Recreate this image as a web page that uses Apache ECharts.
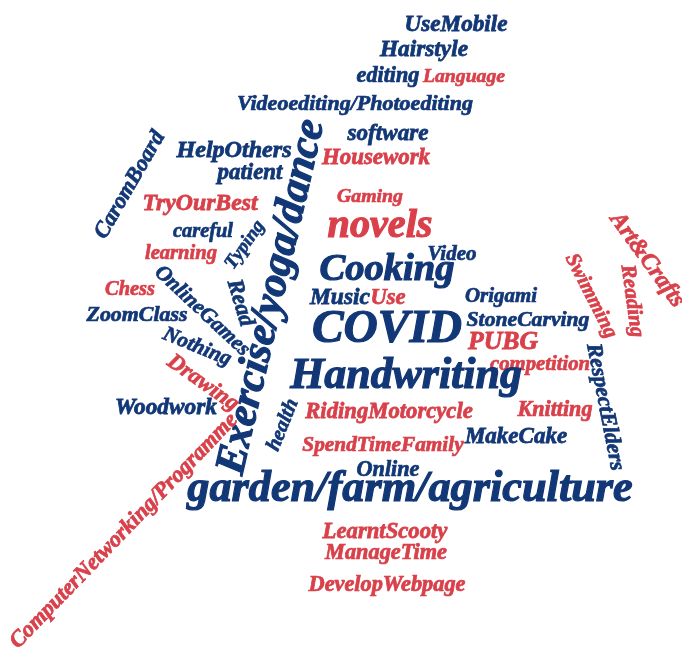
<!DOCTYPE html>
<html>
<head>
<meta charset="utf-8">
<script src="https://cdn.jsdelivr.net/npm/echarts@6/dist/echarts.min.js"></script>
<style>
html,body{margin:0;padding:0;background:#fff;}
#chart{width:682px;height:651px;}
</style>
</head>
<body>
<div id="chart"></div>
<script>
// ---- data ----
const words = ["UseMobile","Hairstyle","editing","Language","Videoediting/Photoediting","software","HelpOthers","Housework","patient","CaromBoard","TryOurBest","Gaming","novels","careful","Typing","learning","Video","Cooking","Exercise/yoga/dance","Chess","Read","OnlineGames","ZoomClass","Music","Use","Origami","StoneCarving","COVID","PUBG","Nothing","competition","Swimming","Art&Crafts","Reading","RespectElders","Handwriting","Drawing","Woodwork","health","RidingMotorcycle","Knitting","SpendTimeFamily","MakeCake","ComputerNetworking/Programme","Online","garden/farm/agriculture","LearntScooty","ManageTime","DevelopWebpage"];
// group: 0 = blue, 1 = red
const groups = [0,0,0,1,0,0,0,1,0,0,1,1,1,0,0,1,0,0,0,1,0,0,0,0,1,0,0,0,1,0,1,1,1,1,0,0,1,0,0,1,1,1,0,1,0,0,1,1,1];

// ---- layout (pixel space of the cloud) ----
const posX = [456,424,388,464,355,388,234,376,250,130,200,370,380,203,245,181,452,387,272,130,240,202,137,340,388,501,528,387,503,197,540,591,647,632,605,406,203,166,283,389,555,383,516,124,388,410,385,386,387];
const posY = [25,50,76,77,104,134,151,158,173,185,204,197,227,232,245,254,255,270,297,290,303,311,315,298,298,297,320,330,342,347,365,296,260,301,407,377,383,408,425,412,410,445,437,531,470,490,532,553,585];
const angle = [0,0,0,0,0,0,0,0,0,60,0,0,0,0,55,0,0,0,77,0,-73,-43,0,0,0,0,0,0,0,-22,0,-63,-54,-82,-79,0,-35,0,68,0,0,0,0,46,0,0,0,0,0];
const span = [103,88,63,82,236,81,115,108,65,120,115,66,105,60,55,72,49,135,363,50,48,122,101,60,35,72,123,150,70,72,100,92,111,73,129,232,82,102,54,168,75,161,102,318,63,446,125,122,157];

const palette = ['#123776', '#d9404a'];
const FONT = '"Liberation Serif", "DejaVu Serif", serif';

const ctx = document.createElement('canvas').getContext('2d');
ctx.font = 'italic bold 100px ' + FONT;
function fitSize(text, len) {
  const w = ctx.measureText(text).width;
  return Math.max(8, Math.round(len * 100 / w * 10) / 10);
}

const seriesData = words.map((w, i) => {
  const fs = fitSize(w, span[i]);
  return {
    name: w,
    value: [posX[i], posY[i]],
    label: {
      rotate: angle[i],
      fontSize: fs,
      color: palette[groups[i]],
      textBorderColor: palette[groups[i]],
      textBorderWidth: Math.min(1.2, fs / 30)
    }
  };
});

const chart = echarts.init(document.getElementById('chart'), null, {renderer: 'canvas'});
chart.setOption({
  animation: false,
  backgroundColor: '#ffffff',
  grid: {left: 0, right: 0, top: 0, bottom: 0},
  xAxis: {type: 'value', min: 0, max: 682, show: false},
  yAxis: {type: 'value', min: 0, max: 651, inverse: true, show: false},
  series: [{
    type: 'scatter',
    symbolSize: 1,
    itemStyle: {color: 'rgba(0,0,0,0)', opacity: 1},
    label: {
      show: true,
      position: 'inside',
      formatter: '{b}',
      fontFamily: FONT,
      fontStyle: 'italic',
      fontWeight: 'bold',
      align: 'center',
      verticalAlign: 'middle',
      opacity: 1
    },
    emphasis: {disabled: true},
    data: seriesData
  }]
});
</script>
</body>
</html>
